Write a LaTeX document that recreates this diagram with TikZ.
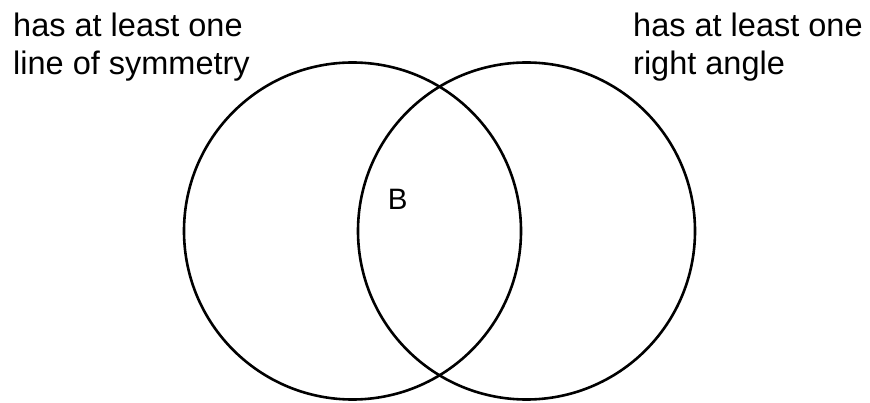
\documentclass[tikz,border=0pt]{standalone}
\usepackage{fontspec}
\setmainfont{Liberation Sans}
\usepackage{tikz}
\usetikzlibrary{positioning}

\begin{document}
\begin{tikzpicture}[
  x=1pt, y=-1pt,
  set/.style={draw=black, line width=2.6pt, circle, minimum size=337pt, inner sep=0pt},
  lbl/.style={font=\fontsize{32.5}{38}\selectfont, align=left, inner sep=0pt, anchor=north west},
  regionlbl/.style={font=\fontsize{29.5}{34}\selectfont, inner sep=0pt}
]
  \useasboundingbox (0,0) rectangle (870,403);
  \node[set] (sym) at (352.5,231) {};
  \node[set] (rang) at (526.5,231) {};
  \node[lbl] (symtxt) at (13,12.5) {has at least one\\line of symmetry};
  \node[lbl] (rangtxt) at (633,12.5) {has at least one\\right angle};
  \node[regionlbl] (b) at (397.8,199) {B};
\end{tikzpicture}
\end{document}
